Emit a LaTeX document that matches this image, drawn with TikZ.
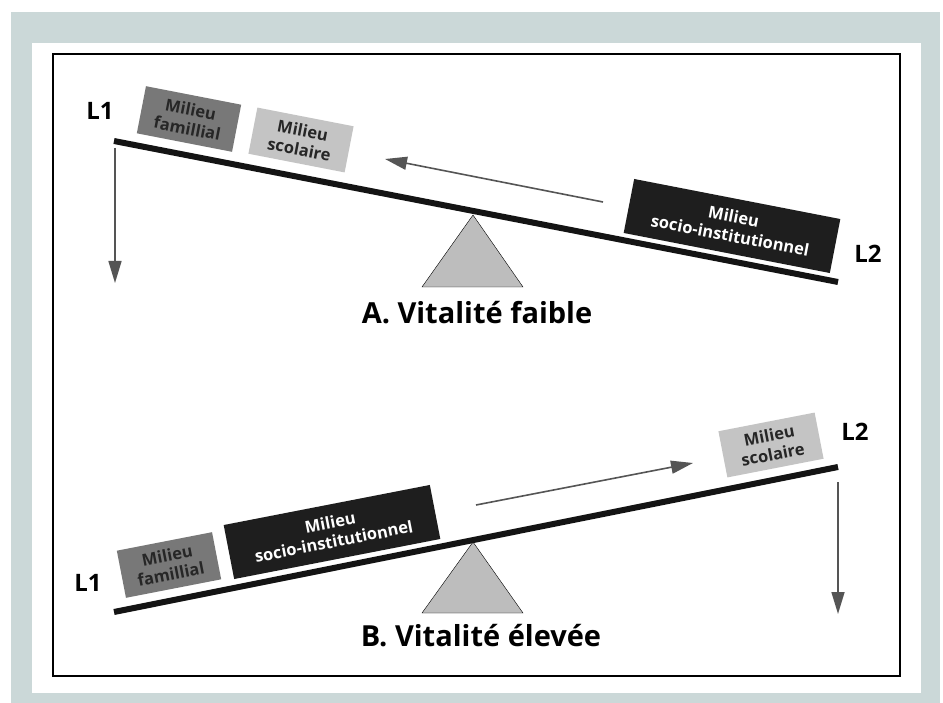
\documentclass[tikz,border=0pt]{standalone}
\usepackage{fontspec}
\setmainfont{Open Sans}
\usetikzlibrary{arrows.meta}
\definecolor{bgc}{HTML}{CBD8D8}
\definecolor{famc}{HTML}{787878}
\definecolor{scoc}{HTML}{C4C4C4}
\definecolor{socc}{HTML}{1E1E1E}
\definecolor{tric}{HTML}{BDBDBD}
\definecolor{arrc}{HTML}{555555}
\begin{document}
\begin{tikzpicture}[x=1pt,y=-1pt,
  boxtext/.style={inner sep=0pt, align=center, font=\bfseries\fontsize{16.5}{19}\selectfont},
  fambox/.style={boxtext, fill=famc, text=black!85, minimum width=97pt, minimum height=48pt},
  scobox/.style={boxtext, fill=scoc, text=black!85, minimum width=98pt, minimum height=47pt},
  socbox/.style={boxtext, fill=socc, text=white, minimum width=210pt, minimum height=55pt},
  beam/.style={line width=6pt, black!92},
  pivot/.style={fill=tric},
  move/.style={arrc, line width=1.6pt, -{Triangle[length=22pt, width=13pt]}},
  side/.style={font=\bfseries\fontsize{24}{24}\selectfont},
  title/.style={font=\bfseries\fontsize{29}{29}\selectfont}]
\useasboundingbox (0,0) rectangle (943,703);
\fill[white] (0,0) rectangle (943,703);
\fill[bgc] (11,12) rectangle (940,703);
\fill[white] (32,43) rectangle (921,693);
\draw[line width=2pt] (53,54) rectangle (900,676);

% ---------- A ----------
\coordinate (a1) at (114,141);
\coordinate (a2) at (838,282);
\draw[pivot] (473,215) -- (523,287) -- (422,287) -- cycle;
\draw[beam] (a1) -- (a2);
\node[fambox, rotate=-11] (famA) at (189,119) {Milieu\\famillial};
\node[scobox, rotate=-11] (scoA) at (301,140) {Milieu\\scolaire};
\node[socbox, rotate=-11] (socA) at (732,226) {Milieu\\socio-institutionnel};
\node[side] (L1A) at (100,111) {L1};
\node[side] (L2A) at (868,254) {L2};
\node[title] (tA) at (477,313) {A. Vitalité faible};
\coordinate (mA1) at (603,202);
\coordinate (mA2) at (385,159);
\draw[move] (mA1) -- (mA2);
\coordinate (dA1) at (115,148);
\coordinate (dA2) at (115,283);
\draw[move] (dA1) -- (dA2);

% ---------- B ----------
\coordinate (b1) at (114,612);
\coordinate (b2) at (838,467);
\draw[pivot] (473,542) -- (523,613) -- (422,613) -- cycle;
\draw[beam] (b1) -- (b2);
\node[fambox, rotate=11] (famB) at (169,565) {Milieu\\famillial};
\node[socbox, rotate=11] (socB) at (332,532) {Milieu\\socio-institutionnel};
\node[scobox, rotate=11] (scoB) at (771,445) {Milieu\\scolaire};
\node[side] (L1B) at (88,583) {L1};
\node[side] (L2B) at (855,432) {L2};
\node[title] (tB) at (481,636) {B. Vitalité élevée};
\coordinate (mB1) at (476,505);
\coordinate (mB2) at (693,463);
\draw[move] (mB1) -- (mB2);
\coordinate (dB1) at (838,482);
\coordinate (dB2) at (838,614);
\draw[move] (dB1) -- (dB2);
\end{tikzpicture}
\end{document}
